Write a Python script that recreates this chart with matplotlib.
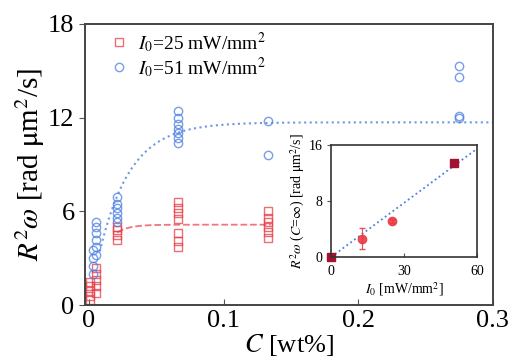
import numpy as np
import matplotlib
matplotlib.use("Agg")
from matplotlib import pyplot as plt

plt.rcParams['font.family'] = ['Liberation Serif', 'DejaVu Serif']
plt.rcParams['mathtext.fontset'] = 'stix'

# main data: R^2 omega vs C, I0 = 25 mW/mm^2 (red squares)
c_red = [0.001]*5 + [0.005]*5 + [0.021]*4 + [0.066]*7 + [0.133]*6
v_red = [0.3, 0.6, 0.9, 1.2, 1.5,
         0.8, 1.2, 1.6, 2.0, 2.4,
         4.2, 4.5, 4.8, 5.0,
         3.7, 4.1, 4.6, 5.5, 5.9, 6.2, 6.6,
         4.3, 4.7, 5.0, 5.3, 5.6, 6.0]

# I0 = 51 mW/mm^2 (blue circles)
c_blue = [0.003]*4 + [0.005]*6 + [0.021]*6 + [0.066]*7 + [0.133]*2 + [0.275]*4
v_blue = [2.0, 2.5, 3.0, 3.5,
          3.2, 3.7, 4.2, 4.6, 5.0, 5.3,
          5.3, 5.6, 5.9, 6.2, 6.5, 6.9,
          10.4, 10.7, 11.0, 11.3, 11.6, 12.0, 12.4,
          9.6, 11.8,
          12.0, 12.1, 14.6, 15.3]

# saturating fits  A*(1-exp(-C/c0))
fit_red_A, fit_red_c0 = 5.15, 0.009
fit_blue_A, fit_blue_c0 = 11.7, 0.023

# inset: R^2 omega (C=inf) vs I0
i0 = [0, 12.5, 25, 50.5]
w_inf = [0.0, 2.6, 5.2, 13.4]
w_err = [0.0, 1.5, 0.3, 0.3]
inset_slope = 0.258

red = '#ea3b45'
blue = '#4a7fe0'

fig = plt.figure(figsize=(5.15, 3.62), dpi=100)
ax = fig.add_axes([0.165, 0.157, 0.792, 0.777])

ax.plot(c_red, v_red, 's', mfc='none', mec=red, mew=1.0, ms=6, alpha=0.75,
        label='$I_0$=25 mW/mm$^2$')
ax.plot(c_blue, v_blue, 'o', mfc='none', mec=blue, mew=1.0, ms=6, alpha=0.75,
        label='$I_0$=51 mW/mm$^2$')

cc = np.linspace(0.021, 0.135, 100)
ax.plot(cc, fit_red_A*(1-np.exp(-cc/fit_red_c0)), '--', color=red, lw=1.3, alpha=0.7)
cb = np.linspace(0.008, 0.3, 300)
ax.plot(cb, fit_blue_A*(1-np.exp(-cb/fit_blue_c0)), ':', color=blue, lw=1.5, alpha=0.8)

ax.set_xlim(-0.003, 0.3)
ax.set_ylim(0, 18)
ax.set_xticks([0, 0.1, 0.2, 0.3])
ax.set_xticklabels(['0', '0.1', '0.2', '0.3'])
ax.set_yticks([0, 6, 12, 18])
ax.tick_params(axis='both', labelsize=19, length=4, color='#555555')
ax.tick_params(axis='x', direction='in')
ax.tick_params(axis='y', direction='out')
ax.set_xlabel('$C$ [wt%]', fontsize=19, labelpad=0)
ax.set_ylabel(r'$R^2\omega$ [rad $\mathrm{\mu}$m$^2$/s]', fontsize=21, labelpad=1)
for s in ax.spines.values():
    s.set_color('#444444')
    s.set_linewidth(1.4)

leg = ax.legend(loc='upper left', bbox_to_anchor=(0.02, 1.02), frameon=False,
                fontsize=14, handletextpad=0.2, labelspacing=0.0,
                handlelength=1.5, borderaxespad=0.2)

# inset
ins = fig.add_axes([0.643, 0.290, 0.283, 0.309])
ii = np.linspace(0, 60, 50)
ins.plot(ii, inset_slope*ii, ':', color=blue, lw=1.3)
ins.errorbar(i0[1:3], w_inf[1:3], yerr=w_err[1:3], fmt='o', color=red,
             ms=6, capsize=2, elinewidth=0.8, alpha=0.9)
ins.plot([i0[0], i0[3]], [w_inf[0], w_inf[3]], 's', color='#a3122e', ms=6,
         clip_on=False)
ins.set_xlim(0, 60)
ins.set_ylim(0, 16)
ins.set_xticks([0, 30, 60])
ins.set_yticks([0, 8, 16])
ins.tick_params(axis='both', labelsize=10, length=3, color='#555555')
ins.tick_params(axis='x', direction='in', pad=6)
ins.set_xlabel('$I_0$ [mW/mm$^2$]', fontsize=10, labelpad=1)
ins.set_ylabel(r'$R^2\omega$ ($C$=$\infty$) [rad $\mathrm{\mu}$m$^2$/s]', fontsize=10,
               labelpad=1)
for s in ins.spines.values():
    s.set_color('#333333')
    s.set_linewidth(1.2)

fig.savefig('out.png', dpi=100)
